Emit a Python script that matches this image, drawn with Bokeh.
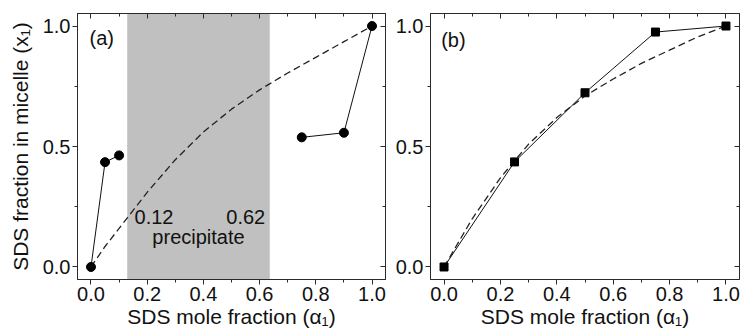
from bokeh.plotting import figure
from bokeh.layouts import row
from bokeh.models import (LinearAxis, SingleIntervalTicker, BoxAnnotation, Label, Range1d,
                          NumeralTickFormatter)
from bokeh.embed import file_html
from bokeh.resources import INLINE

# ---------------- data ----------------
# panel (a)
a_low_alpha = [0.0, 0.05, 0.10]
a_low_x = [0.0, 0.435, 0.463]
a_high_alpha = [0.75, 0.90, 1.0]
a_high_x = [0.538, 0.557, 1.0]
ideal_a_alpha = [0.0, 0.05, 0.10, 0.15, 0.20, 0.30, 0.40, 0.50, 0.60, 0.70, 0.80, 0.90, 1.0]
ideal_a_x = [0.0, 0.085, 0.16, 0.235, 0.31, 0.445, 0.56, 0.655, 0.735, 0.805, 0.87, 0.935, 1.0]
precip_bounds = [0.13, 0.635]
precip_labels = ["0.12", "0.62"]

# panel (b)
b_alpha = [0.0, 0.25, 0.50, 0.75, 1.0]
b_x = [0.0, 0.436, 0.723, 0.975, 1.0]
ideal_b_alpha = [0.0, 0.1, 0.2, 0.3, 0.4, 0.5, 0.6, 0.7, 0.8, 0.9, 1.0]
ideal_b_x = [0.0, 0.20, 0.37, 0.51, 0.62, 0.71, 0.78, 0.845, 0.90, 0.955, 1.0]

x_label = "SDS mole fraction (\u03b1\u2081)"
y_label = "SDS fraction in micelle (x\u2081)"

FONT = "'Liberation Sans', Arial, sans-serif"
AX_COL = "#2a2a2a"
TICK_COL = "#2a2a2a"
LINE_COL = "#111111"


def style_axis(ax, major_in, major_out, minor_in, minor_out, labels=True):
    ax.axis_line_color = AX_COL
    ax.axis_line_width = 1
    ax.major_tick_line_color = TICK_COL
    ax.minor_tick_line_color = TICK_COL
    ax.major_tick_line_width = 1
    ax.minor_tick_line_width = 1
    ax.major_tick_in = major_in
    ax.major_tick_out = major_out
    ax.minor_tick_in = minor_in
    ax.minor_tick_out = minor_out
    ax.major_label_text_font = FONT
    ax.major_label_text_color = "#111111"
    ax.major_label_text_font_size = "20px"
    ax.major_label_standoff = 2
    ax.formatter = NumeralTickFormatter(format="0.0")
    if not labels:
        ax.major_label_text_font_size = "0px"
        ax.major_label_standoff = 0
        ax.major_label_text_color = None


def make_fig(frame_w, left, right, show_ylabel):
    p = figure(output_backend="svg", toolbar_location=None,
               frame_width=frame_w, frame_height=266,
               min_border_left=left, min_border_right=right,
               min_border_top=13, min_border_bottom=10,
               x_range=Range1d(-0.048, 1.048), y_range=Range1d(-0.052, 1.052),
               background_fill_color="white", border_fill_color="white")
    p.xgrid.visible = False
    p.ygrid.visible = False
    p.outline_line_color = AX_COL
    p.outline_line_width = 1

    p.xaxis.ticker = SingleIntervalTicker(interval=0.2, num_minor_ticks=2)
    p.yaxis.ticker = SingleIntervalTicker(interval=0.5, num_minor_ticks=2)
    style_axis(p.xaxis[0], 0, 5, 0, 3)
    style_axis(p.yaxis[0], 0, 5, 0, 3)
    p.xaxis.axis_label = x_label
    p.xaxis.axis_label_text_font = FONT
    p.xaxis.axis_label_text_font_style = "normal"
    p.xaxis.axis_label_text_font_size = "21px"
    p.xaxis.axis_label_text_color = "#111111"
    p.xaxis.axis_label_standoff = 1
    if show_ylabel:
        p.yaxis.axis_label = y_label
        p.yaxis.axis_label_text_font = FONT
        p.yaxis.axis_label_text_font_style = "normal"
        p.yaxis.axis_label_text_font_size = "21px"
        p.yaxis.axis_label_text_color = "#111111"
        p.yaxis.axis_label_standoff = 8

    top = LinearAxis(ticker=SingleIntervalTicker(interval=0.2, num_minor_ticks=2))
    style_axis(top, 5, 0, 3, 0, labels=False)
    p.add_layout(top, "above")
    rgt = LinearAxis(ticker=SingleIntervalTicker(interval=0.5, num_minor_ticks=2))
    style_axis(rgt, 5, 0, 3, 0, labels=False)
    p.add_layout(rgt, "right")
    return p


# ---------------- panel (a) ----------------
pa = make_fig(308, 77, 4, True)
pa.add_layout(BoxAnnotation(left=precip_bounds[0], right=precip_bounds[1],
                            fill_color="#c0c0c0", fill_alpha=1.0,
                            line_color="#9a9a9a", line_width=1, level="underlay"))
pa.line(ideal_a_alpha, ideal_a_x, line_color="#222222", line_width=1.3, line_dash="7 4")
pa.line(a_low_alpha, a_low_x, line_color=LINE_COL, line_width=1)
pa.line(a_high_alpha, a_high_x, line_color=LINE_COL, line_width=1)
pa.scatter(a_low_alpha + a_high_alpha, a_low_x + a_high_x, marker="circle",
           size=9, fill_color="black", line_color="black")

lab_kw = dict(text_font=FONT, text_font_size="20px", text_color="#111111")
pa.add_layout(Label(x=-0.005, y=0.905, text="(a)", **lab_kw))
pa.add_layout(Label(x=0.155, y=0.18, text=precip_labels[0], **lab_kw))
pa.add_layout(Label(x=0.62, y=0.18, text=precip_labels[1], text_align="right", **lab_kw))
pa.add_layout(Label(x=(precip_bounds[0] + precip_bounds[1]) / 2, y=0.08,
                    text="precipitate", text_align="center", **lab_kw))

# ---------------- panel (b) ----------------
pb = make_fig(309, 41, 2, False)
pb.line(ideal_b_alpha, ideal_b_x, line_color="#222222", line_width=1.3, line_dash="7 4")
pb.line(b_alpha, b_x, line_color=LINE_COL, line_width=1)
pb.scatter(b_alpha, b_x, marker="square", size=8, fill_color="black", line_color="black")
pb.add_layout(Label(x=-0.01, y=0.895, text="(b)", **lab_kw))

layout = row(pa, pb, spacing=0)
open("out.html", "w").write(file_html(layout, INLINE))
